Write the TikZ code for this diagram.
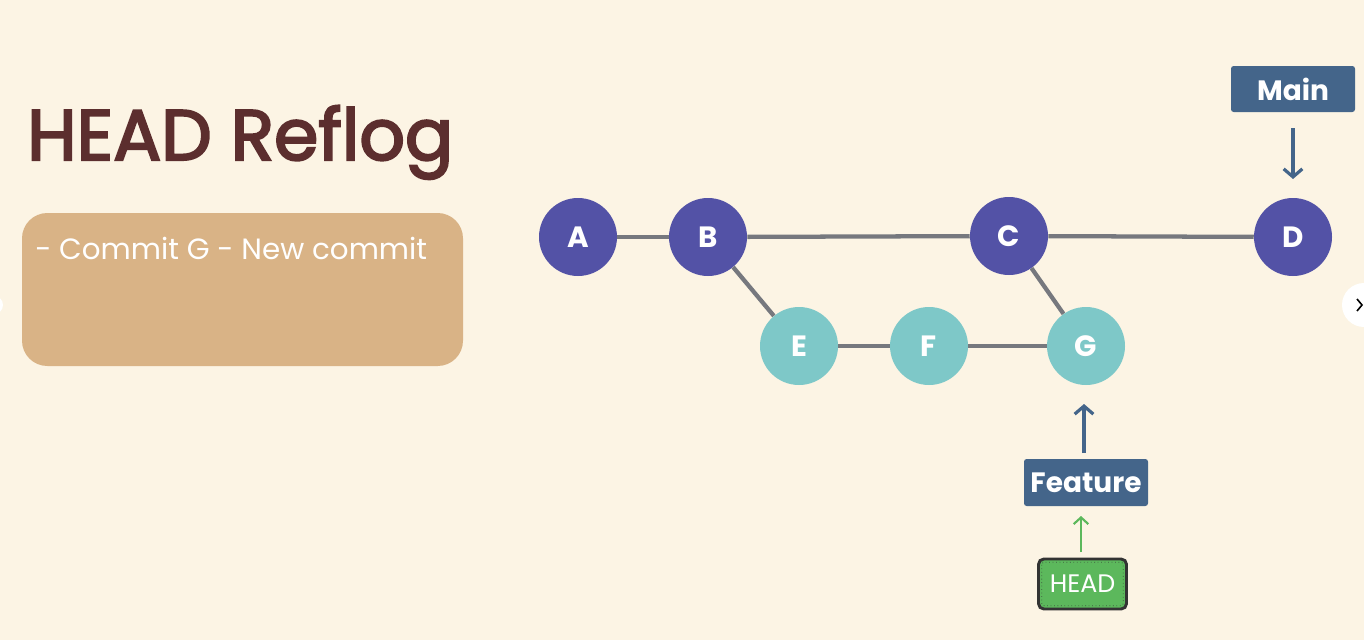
\documentclass[tikz,border=0pt]{standalone}
\usepackage{fontspec}
\setmainfont{Poppins}
\newfontfamily\titlefont{Poppins}[FakeBold=3]
\usetikzlibrary{arrows.meta}
\definecolor{bg}{HTML}{FCF4E4}
\definecolor{titlec}{HTML}{5C2E2E}
\definecolor{boxc}{HTML}{D9B386}
\definecolor{mainc}{HTML}{5352A6}
\definecolor{featc}{HTML}{7EC8C8}
\definecolor{edgec}{HTML}{76787E}
\definecolor{labc}{HTML}{44658A}
\definecolor{headc}{HTML}{5CB85C}
\definecolor{headb}{HTML}{333333}
\tikzset{
  commit/.style={circle, minimum size=58.5pt, inner sep=0pt, text=white, font=\fontsize{22}{22}\selectfont\bfseries},
  maincommit/.style={commit, fill=mainc},
  featcommit/.style={commit, fill=featc},
  link/.style={draw=edgec, line width=3.2pt},
  branch/.style={fill=labc, rounded corners=2pt, text=white, font=\fontsize{21}{21}\selectfont\bfseries, inner sep=0pt},
  ptr/.style={draw=labc, line width=2.4pt, -{Straight Barb[length=6pt,width=14pt,line width=2.4pt]}},
  headptr/.style={draw=headc, line width=1.6pt, -{Straight Barb[length=5pt,width=11pt,line width=1.6pt]}},
}
\begin{document}
\begin{tikzpicture}[x=0.75pt,y=-0.75pt]
\useasboundingbox (0,0) rectangle (1364,640);
\fill[bg] (0,0) rectangle (1364,640);
% nav artifacts
\fill[white] (1364,305) circle (22);
\draw[black, line width=1.2pt] (1357,299) -- (1362,305) -- (1357,311);
\fill[white] (-6,305) circle (9);
% title
\node[anchor=base west, inner sep=0pt, text=titlec, font=\titlefont\fontsize{53.5}{53.5}\selectfont] (title) at (27,160) {HEAD Reflog};
% box
\node[fill=boxc, rounded corners=19pt, minimum width=330.75pt, minimum height=114.75pt, inner sep=0pt] (infobox) at (242.5,289.5) {};
\node[anchor=base west, inner sep=0pt, text=white, font=\fontsize{22}{22}\selectfont] (infotext) at (35,259) {- Commit G - New commit};
% commits
\node[maincommit] (A) at (578,237) {A};
\node[maincommit] (B) at (708,237) {B};
\node[maincommit] (C) at (1009,236) {C};
\node[maincommit] (D) at (1293,237) {D};
\node[featcommit] (E) at (799,346) {E};
\node[featcommit] (F) at (929,346) {F};
\node[featcommit] (G) at (1086,346) {G};
\draw[link] (A) -- (B);
\draw[link] (B) -- (C);
\draw[link] (C) -- (D);
\draw[link] (B) -- (E);
\draw[link] (E) -- (F);
\draw[link] (F) -- (G);
\draw[link] (C) -- (G);
% branches
\node[branch, minimum width=93pt, minimum height=34.5pt] (main) at (1293,89) {Main};
\node[branch, minimum width=93pt, minimum height=35.25pt] (feature) at (1086,482.5) {Feature};
\node[fill=headc, draw=headb, line width=2.2pt, rounded corners=4pt, minimum width=66pt, minimum height=37.5pt, inner sep=0pt, text=white, font=\fontsize{19}{19}\selectfont] (head) at (1082.5,584) {HEAD};
\draw[headb!70!headc, dotted, line width=0.6pt, rounded corners=2pt] ([xshift=3.5pt,yshift=-3.5pt]head.north west) rectangle ([xshift=-3.5pt,yshift=3.5pt]head.south east);
% pointers
\coordinate (mainstart) at (1293,128);
\coordinate (dtip) at (1293,179);
\draw[ptr] (mainstart) -- (dtip);
\coordinate (featstart) at (1084,453);
\coordinate (gtip) at (1084,404);
\draw[ptr] (featstart) -- (gtip);
\coordinate (headstart) at (1081,552);
\coordinate (ftip) at (1081,516);
\draw[headptr] (headstart) -- (ftip);
\end{tikzpicture}
\end{document}
